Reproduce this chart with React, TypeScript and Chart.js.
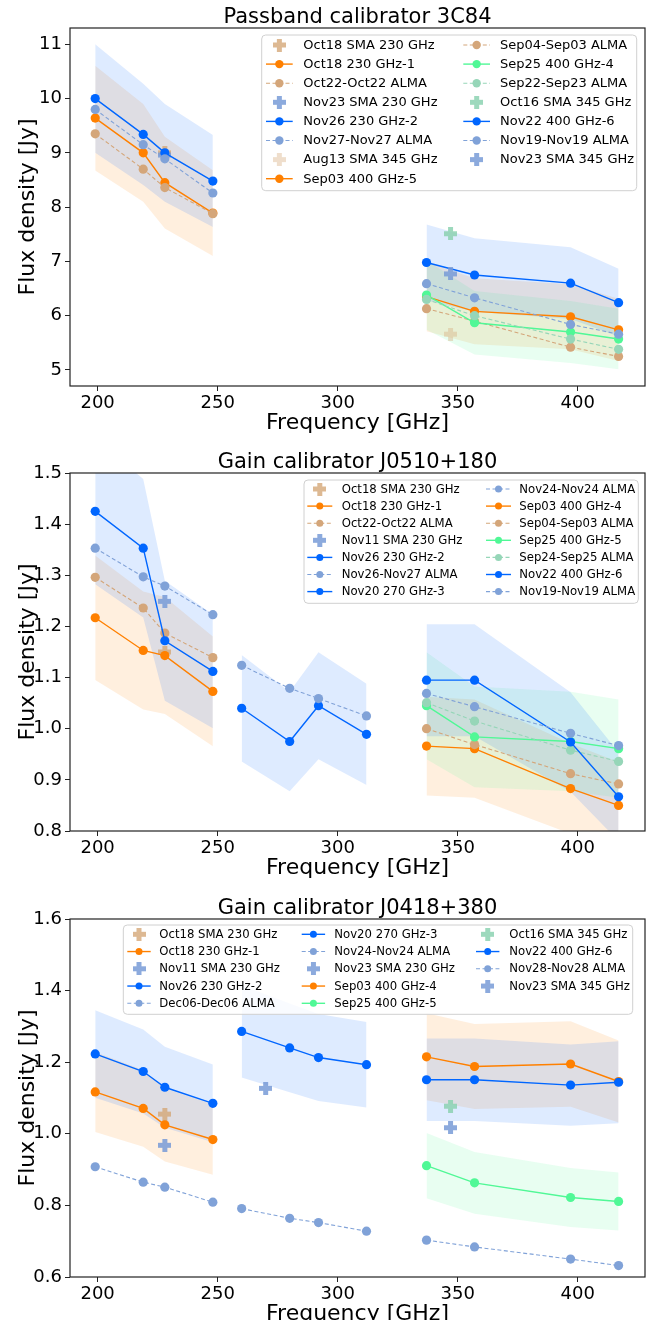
import { useEffect, useRef } from 'react';
import { Chart, registerables } from 'chart.js';

Chart.register(...registerables);

const FONT = "'DejaVu Sans', 'Liberation Sans', sans-serif";

// ---- measurement frequencies (GHz) ----
const FREQ_B6 = [199, 219, 228, 248];
const FREQ_MID = [260, 280, 292, 312];
const FREQ_B7 = [337, 357, 397, 417];
const FREQ_SMA_230 = [228];
const FREQ_SMA_270 = [270];
const FREQ_SMA_345 = [347];

// shared frequency axis
const X_MIN = 188.5;
const X_MAX = 428;
const X_STEP = 50;

// relative flux-scale uncertainty shown as shaded bands
const CAL_UNCERTAINTY = 0.1;

// ---- Passband calibrator 3C84 (Jy) ----
const P1_OCT18_SMA230 = [9.0];
const P1_OCT18_230_1 = [9.64, 9.0, 8.45, 7.89];
const P1_OCT22_ALMA = [9.35, 8.7, 8.36, 7.88];
const P1_NOV23_SMA230 = [8.96];
const P1_NOV26_230_2 = [10.0, 9.34, 9.0, 8.48];
const P1_NOV27_ALMA = [9.8, 9.15, 8.89, 8.26];
const P1_AUG13_SMA345 = [5.66];
const P1_SEP03_400_5 = [6.35, 6.08, 5.98, 5.74];
const P1_SEP04_ALMA = [6.13, 5.9, 5.42, 5.25];
const P1_SEP25_400_4 = [6.38, 5.87, 5.7, 5.57];
const P1_SEP22_ALMA = [6.3, 6.0, 5.57, 5.38];
const P1_OCT16_SMA345 = [7.51];
const P1_NOV22_400_6 = [6.98, 6.75, 6.6, 6.24];
const P1_NOV19_ALMA = [6.59, 6.33, 5.84, 5.66];
const P1_NOV23_SMA345 = [6.77];

// ---- Gain calibrator J0510+180 (Jy) ----
const P2_OCT18_SMA230 = [1.15];
const P2_OCT18_230_1 = [1.217, 1.153, 1.143, 1.073];
const P2_OCT22_ALMA = [1.296, 1.236, 1.187, 1.139];
const P2_NOV11_SMA230 = [1.249];
const P2_NOV26_230_2 = [1.425, 1.353, 1.172, 1.112];
const P2_NOV26_ALMA = [1.353, 1.297, 1.279, 1.223];
const P2_NOV20_270_3 = [1.04, 0.975, 1.045, 0.989];
const P2_NOV24_ALMA = [1.124, 1.079, 1.059, 1.025];
const P2_SEP03_400_4 = [0.966, 0.961, 0.883, 0.85];
const P2_SEP04_ALMA = [1.0, 0.969, 0.912, 0.892];
const P2_SEP25_400_5 = [1.045, 0.984, 0.975, 0.961];
const P2_SEP24_ALMA = [1.051, 1.015, 0.958, 0.936];
const P2_NOV22_400_6 = [1.095, 1.095, 0.974, 0.867];
const P2_NOV19_ALMA = [1.069, 1.043, 0.991, 0.967];

// ---- Gain calibrator J0418+380 (Jy) ----
const P3_OCT18_SMA230 = [1.055];
const P3_OCT18_230_1 = [1.117, 1.071, 1.025, 0.984];
const P3_NOV11_SMA230 = [0.968];
const P3_NOV26_230_2 = [1.223, 1.174, 1.13, 1.085];
const P3_DEC06_ALMA = [0.908, 0.865, 0.851, 0.809];
const P3_NOV20_270_3 = [1.286, 1.24, 1.213, 1.193];
const P3_NOV24_ALMA = [0.791, 0.764, 0.752, 0.728];
const P3_NOV23_SMA230 = [1.127];
const P3_SEP03_400_4 = [1.215, 1.188, 1.195, 1.146];
const P3_SEP25_400_5 = [0.911, 0.863, 0.822, 0.811];
const P3_OCT16_SMA345 = [1.077];
const P3_NOV22_400_6 = [1.151, 1.151, 1.136, 1.144];
const P3_NOV28_ALMA = [0.703, 0.684, 0.65, 0.632];
const P3_NOV23_SMA345 = [1.017];

// ---- colours ----
type RGB = number[];
const BLUE: RGB = [0, 102, 255];
const ORANGE: RGB = [255, 128, 0];
const GREEN: RGB = [80, 248, 150];
const TAN: RGB = [212, 166, 122];
const LBLUE: RGB = [128, 162, 216];
const LGREEN: RGB = [150, 214, 184];
const SMA_TAN: RGB = [212, 168, 120];
const SMA_BLUE: RGB = [120, 155, 215];
const SMA_GREEN: RGB = [140, 210, 178];
const BAND_ALPHA = 0.13;

const rgba = (c: RGB, a = 1) => `rgba(${c[0]},${c[1]},${c[2]},${a})`;

type Kind = 'sma' | 'obs' | 'alma';
interface Series {
  label: string;
  kind: Kind;
  x: number[];
  y: number[];
  color: RGB;
  alpha?: number;
}

const S = (label: string, kind: Kind, x: number[], y: number[], color: RGB, alpha = 1): Series => ({
  label,
  kind,
  x,
  y,
  color,
  alpha,
});

const SERIES_3C84: Series[] = [
  S('Oct18 SMA 230 GHz', 'sma', FREQ_SMA_230, P1_OCT18_SMA230, SMA_TAN, 0.8),
  S('Oct18 230 GHz-1', 'obs', FREQ_B6, P1_OCT18_230_1, ORANGE),
  S('Oct22-Oct22 ALMA', 'alma', FREQ_B6, P1_OCT22_ALMA, TAN),
  S('Nov23 SMA 230 GHz', 'sma', FREQ_SMA_230, P1_NOV23_SMA230, SMA_BLUE, 0.85),
  S('Nov26 230 GHz-2', 'obs', FREQ_B6, P1_NOV26_230_2, BLUE),
  S('Nov27-Nov27 ALMA', 'alma', FREQ_B6, P1_NOV27_ALMA, LBLUE),
  S('Aug13 SMA 345 GHz', 'sma', FREQ_SMA_345, P1_AUG13_SMA345, SMA_TAN, 0.38),
  S('Sep03 400 GHz-5', 'obs', FREQ_B7, P1_SEP03_400_5, ORANGE),
  S('Sep04-Sep03 ALMA', 'alma', FREQ_B7, P1_SEP04_ALMA, TAN),
  S('Sep25 400 GHz-4', 'obs', FREQ_B7, P1_SEP25_400_4, GREEN),
  S('Sep22-Sep23 ALMA', 'alma', FREQ_B7, P1_SEP22_ALMA, LGREEN),
  S('Oct16 SMA 345 GHz', 'sma', FREQ_SMA_345, P1_OCT16_SMA345, SMA_GREEN, 0.85),
  S('Nov22 400 GHz-6', 'obs', FREQ_B7, P1_NOV22_400_6, BLUE),
  S('Nov19-Nov19 ALMA', 'alma', FREQ_B7, P1_NOV19_ALMA, LBLUE),
  S('Nov23 SMA 345 GHz', 'sma', FREQ_SMA_345, P1_NOV23_SMA345, SMA_BLUE, 0.85),
];

const SERIES_J0510: Series[] = [
  S('Oct18 SMA 230 GHz', 'sma', FREQ_SMA_230, P2_OCT18_SMA230, SMA_TAN, 0.8),
  S('Oct18 230 GHz-1', 'obs', FREQ_B6, P2_OCT18_230_1, ORANGE),
  S('Oct22-Oct22 ALMA', 'alma', FREQ_B6, P2_OCT22_ALMA, TAN),
  S('Nov11 SMA 230 GHz', 'sma', FREQ_SMA_230, P2_NOV11_SMA230, SMA_BLUE, 0.85),
  S('Nov26 230 GHz-2', 'obs', FREQ_B6, P2_NOV26_230_2, BLUE),
  S('Nov26-Nov27 ALMA', 'alma', FREQ_B6, P2_NOV26_ALMA, LBLUE),
  S('Nov20 270 GHz-3', 'obs', FREQ_MID, P2_NOV20_270_3, BLUE),
  S('Nov24-Nov24 ALMA', 'alma', FREQ_MID, P2_NOV24_ALMA, LBLUE),
  S('Sep03 400 GHz-4', 'obs', FREQ_B7, P2_SEP03_400_4, ORANGE),
  S('Sep04-Sep03 ALMA', 'alma', FREQ_B7, P2_SEP04_ALMA, TAN),
  S('Sep25 400 GHz-5', 'obs', FREQ_B7, P2_SEP25_400_5, GREEN),
  S('Sep24-Sep25 ALMA', 'alma', FREQ_B7, P2_SEP24_ALMA, LGREEN),
  S('Nov22 400 GHz-6', 'obs', FREQ_B7, P2_NOV22_400_6, BLUE),
  S('Nov19-Nov19 ALMA', 'alma', FREQ_B7, P2_NOV19_ALMA, LBLUE),
];

const SERIES_J0418: Series[] = [
  S('Oct18 SMA 230 GHz', 'sma', FREQ_SMA_230, P3_OCT18_SMA230, SMA_TAN, 0.8),
  S('Oct18 230 GHz-1', 'obs', FREQ_B6, P3_OCT18_230_1, ORANGE),
  S('Nov11 SMA 230 GHz', 'sma', FREQ_SMA_230, P3_NOV11_SMA230, SMA_BLUE, 0.85),
  S('Nov26 230 GHz-2', 'obs', FREQ_B6, P3_NOV26_230_2, BLUE),
  S('Dec06-Dec06 ALMA', 'alma', FREQ_B6, P3_DEC06_ALMA, LBLUE),
  S('Nov20 270 GHz-3', 'obs', FREQ_MID, P3_NOV20_270_3, BLUE),
  S('Nov24-Nov24 ALMA', 'alma', FREQ_MID, P3_NOV24_ALMA, LBLUE),
  S('Nov23 SMA 230 GHz', 'sma', FREQ_SMA_270, P3_NOV23_SMA230, SMA_BLUE, 0.85),
  S('Sep03 400 GHz-4', 'obs', FREQ_B7, P3_SEP03_400_4, ORANGE),
  S('Sep25 400 GHz-5', 'obs', FREQ_B7, P3_SEP25_400_5, GREEN),
  S('Oct16 SMA 345 GHz', 'sma', FREQ_SMA_345, P3_OCT16_SMA345, SMA_GREEN, 0.85),
  S('Nov22 400 GHz-6', 'obs', FREQ_B7, P3_NOV22_400_6, BLUE),
  S('Nov28-Nov28 ALMA', 'alma', FREQ_B7, P3_NOV28_ALMA, LBLUE),
  S('Nov23 SMA 345 GHz', 'sma', FREQ_SMA_345, P3_NOV23_SMA345, SMA_BLUE, 0.85),
];

interface LegendLayout {
  box: { x: number; y: number; w: number; h: number };
  rowY0: number;
  rowH: number;
  perCol: number;
  handleX: number[];
  handleLen: number;
  textX: number[];
  fontSize: number;
  markerR: number;
}

interface PanelConfig {
  title: string;
  top: number;
  yMin: number;
  yMax: number;
  yStep: number;
  yDecimals: number;
  series: Series[];
  legend: LegendLayout;
}

const PANELS: PanelConfig[] = [
  {
    title: 'Passband calibrator 3C84',
    top: 0,
    yMin: 4.705,
    yMax: 11.3,
    yStep: 1,
    yDecimals: 0,
    series: SERIES_3C84,
    legend: {
      box: { x: 261.7, y: 35, w: 375, h: 155.7 },
      rowY0: 45,
      rowH: 19.1,
      perCol: 8,
      handleX: [266, 463.3],
      handleLen: 26.7,
      textX: [303.3, 500],
      fontSize: 13,
      markerR: 4.2,
    },
  },
  {
    title: 'Gain calibrator J0510+180',
    top: 445,
    yMin: 0.8,
    yMax: 1.5,
    yStep: 0.1,
    yDecimals: 1,
    series: SERIES_J0510,
    legend: {
      box: { x: 304, y: 35, w: 334.3, h: 123.3 },
      rowY0: 44,
      rowH: 17.1,
      perCol: 7,
      handleX: [307.3, 486],
      handleLen: 25,
      textX: [341.7, 519.3],
      fontSize: 11.7,
      markerR: 3.5,
    },
  },
  {
    title: 'Gain calibrator J0418+380',
    top: 891,
    yMin: 0.6,
    yMax: 1.6,
    yStep: 0.2,
    yDecimals: 1,
    series: SERIES_J0418,
    legend: {
      box: { x: 123.3, y: 34, w: 509.4, h: 89.3 },
      rowY0: 43.3,
      rowH: 17.25,
      perCol: 5,
      handleX: [127.3, 301.7, 476],
      handleLen: 23.4,
      textX: [159.3, 334.3, 509.3],
      fontSize: 11.7,
      markerR: 3.5,
    },
  },
];

const CANVAS_W = 660;
const CANVAS_H = 446;
const MARKER_R = 4.6;
const ALMA_DASH = [4, 2.5];

// filled "plus" marker used for the SMA measurements
function makePlus(color: string, size = 13, arm = 5) {
  const c = document.createElement('canvas');
  c.width = size;
  c.height = size;
  const g = c.getContext('2d')!;
  g.fillStyle = color;
  const o = (size - arm) / 2;
  g.beginPath();
  g.moveTo(o, 0);
  g.lineTo(o + arm, 0);
  g.lineTo(o + arm, o);
  g.lineTo(size, o);
  g.lineTo(size, o + arm);
  g.lineTo(o + arm, o + arm);
  g.lineTo(o + arm, size);
  g.lineTo(o, size);
  g.lineTo(o, o + arm);
  g.lineTo(0, o + arm);
  g.lineTo(0, o);
  g.lineTo(o, o);
  g.closePath();
  g.fill();
  return c;
}

const pts = (xs: number[], ys: number[]) => xs.map((x, i) => ({ x, y: ys[i] }));

function buildDatasets(series: Series[], plusCache: Map<string, HTMLCanvasElement>) {
  const datasets: any[] = [];
  const n = series.length;
  series.forEach((s, i) => {
    const col = rgba(s.color, s.alpha ?? 1);
    if (s.kind === 'obs') {
      datasets.push({
        data: pts(s.x, s.y.map((v) => v * (1 + CAL_UNCERTAINTY))),
        fill: '+1',
        backgroundColor: rgba(s.color, BAND_ALPHA),
        borderColor: 'rgba(0,0,0,0)',
        borderWidth: 0,
        pointRadius: 0,
        tension: 0,
        order: 1000 + n - i,
      });
      datasets.push({
        data: pts(s.x, s.y.map((v) => v * (1 - CAL_UNCERTAINTY))),
        fill: false,
        borderColor: 'rgba(0,0,0,0)',
        borderWidth: 0,
        pointRadius: 0,
        tension: 0,
        order: 1000 + n - i,
      });
      datasets.push({
        label: s.label,
        data: pts(s.x, s.y),
        fill: false,
        borderColor: col,
        borderWidth: 1.4,
        pointRadius: MARKER_R,
        pointBackgroundColor: col,
        pointBorderWidth: 0,
        tension: 0,
        order: n - i,
      });
    } else if (s.kind === 'alma') {
      datasets.push({
        label: s.label,
        data: pts(s.x, s.y),
        fill: false,
        borderColor: col,
        borderWidth: 1.1,
        borderDash: ALMA_DASH,
        pointRadius: MARKER_R,
        pointBackgroundColor: col,
        pointBorderWidth: 0,
        tension: 0,
        order: n - i,
      });
    } else {
      if (!plusCache.has(col)) plusCache.set(col, makePlus(col));
      datasets.push({
        label: s.label,
        data: pts(s.x, s.y),
        showLine: false,
        fill: false,
        pointStyle: plusCache.get(col),
        pointRadius: 6,
        order: n - i,
      });
    }
  });
  return datasets;
}

function Panel({ cfg }: { cfg: PanelConfig }) {
  const ref = useRef<HTMLCanvasElement>(null);

  useEffect(() => {
    const plusCache = new Map<string, HTMLCanvasElement>();
    const datasets = buildDatasets(cfg.series, plusCache);

    const framePlugin = {
      id: 'axesFrame',
      afterDatasetsDraw(chart: any) {
        const { ctx, chartArea: a } = chart;
        ctx.save();
        ctx.strokeStyle = '#222';
        ctx.lineWidth = 1.2;
        ctx.strokeRect(a.left, a.top, a.right - a.left, a.bottom - a.top);
        ctx.restore();
      },
    };

    const titlePlugin = {
      id: 'panelTitle',
      afterDraw(chart: any) {
        const { ctx, chartArea: a } = chart;
        ctx.save();
        ctx.font = `21px ${FONT}`;
        ctx.fillStyle = '#000';
        ctx.textAlign = 'center';
        ctx.textBaseline = 'alphabetic';
        ctx.fillText(cfg.title, (a.left + a.right) / 2, a.top - 4.6);
        ctx.restore();
      },
    };

    const L = cfg.legend;
    const legendPlugin = {
      id: 'seriesLegend',
      afterDraw(chart: any) {
        const ctx = chart.ctx as CanvasRenderingContext2D;
        ctx.save();
        const b = L.box;
        ctx.beginPath();
        (ctx as any).roundRect(b.x, b.y, b.w, b.h, 4);
        ctx.fillStyle = 'rgba(255,255,255,0.8)';
        ctx.fill();
        ctx.strokeStyle = '#d0d0d0';
        ctx.lineWidth = 1;
        ctx.stroke();

        cfg.series.forEach((s, i) => {
          const colIdx = Math.floor(i / L.perCol);
          const row = i % L.perCol;
          const y = L.rowY0 + row * L.rowH;
          const x0 = L.handleX[colIdx];
          const cx = x0 + L.handleLen / 2;
          const col = rgba(s.color, s.alpha ?? 1);
          if (s.kind !== 'sma') {
            ctx.beginPath();
            ctx.setLineDash(s.kind === 'alma' ? ALMA_DASH : []);
            ctx.strokeStyle = col;
            ctx.lineWidth = s.kind === 'alma' ? 1.1 : 1.4;
            ctx.moveTo(x0, y);
            ctx.lineTo(x0 + L.handleLen, y);
            ctx.stroke();
            ctx.setLineDash([]);
            ctx.beginPath();
            ctx.arc(cx, y, L.markerR, 0, Math.PI * 2);
            ctx.fillStyle = col;
            ctx.fill();
          } else {
            const img = plusCache.get(col)!;
            ctx.drawImage(img, cx - img.width / 2, y - img.height / 2);
          }
          ctx.font = `${L.fontSize}px ${FONT}`;
          ctx.fillStyle = '#000';
          ctx.textAlign = 'left';
          ctx.textBaseline = 'middle';
          ctx.fillText(s.label, L.textX[colIdx], y + 0.5);
        });
        ctx.restore();
      },
    };

    const tickFont = { family: FONT, size: 18 };
    const titleFont = { family: FONT, size: 22 };

    const chart = new Chart(ref.current!, {
      type: 'line',
      data: { datasets },
      options: {
        animation: false,
        responsive: false,
        devicePixelRatio: 1,
        events: [],
        layout: { padding: { top: 28, right: 15, left: 0, bottom: 0 } },
        plugins: {
          legend: { display: false },
          tooltip: { enabled: false },
          title: { display: false },
        },
        scales: {
          x: {
            type: 'linear',
            min: X_MIN,
            max: X_MAX,
            afterFit: (s: any) => {
              s.height = 60;
            },
            ticks: {
              stepSize: X_STEP,
              includeBounds: false,
              font: tickFont,
              color: '#000',
              padding: 2,
              maxRotation: 0,
              callback: (v: any) => String(v),
            },
            grid: {
              drawOnChartArea: false,
              drawTicks: true,
              tickLength: 5,
              color: '#222',
              lineWidth: 1,
            },
            border: { display: false },
            title: {
              display: true,
              text: 'Frequency [GHz]',
              font: titleFont,
              color: '#000',
              padding: { top: 0, bottom: 10 },
            },
          },
          y: {
            type: 'linear',
            min: cfg.yMin,
            max: cfg.yMax,
            afterFit: (s: any) => {
              s.width = 70;
            },
            ticks: {
              stepSize: cfg.yStep,
              includeBounds: false,
              font: tickFont,
              color: '#000',
              padding: 3,
              callback: (v: any) => Number(v).toFixed(cfg.yDecimals),
            },
            grid: {
              drawOnChartArea: false,
              drawTicks: true,
              tickLength: 5,
              color: '#222',
              lineWidth: 1,
            },
            border: { display: false },
            title: {
              display: true,
              text: 'Flux density [Jy]',
              font: titleFont,
              color: '#000',
              padding: { top: 15.3, bottom: 0 },
            },
          },
        },
      } as any,
      plugins: [framePlugin, titlePlugin, legendPlugin],
    });

    return () => chart.destroy();
  }, [cfg]);

  return (
    <div style={{ position: 'absolute', left: 0, top: cfg.top, width: CANVAS_W, height: CANVAS_H }}>
      <canvas
        ref={ref}
        width={CANVAS_W}
        height={CANVAS_H}
        style={{ display: 'block', width: CANVAS_W, height: CANVAS_H }}
      />
    </div>
  );
}

export default function App() {
  return (
    <div
      style={{
        position: 'fixed',
        left: 0,
        top: 0,
        width: 660,
        height: 1320,
        overflow: 'hidden',
        background: '#fff',
      }}
    >
      {PANELS.map((p) => (
        <Panel key={p.title} cfg={p} />
      ))}
    </div>
  );
}
